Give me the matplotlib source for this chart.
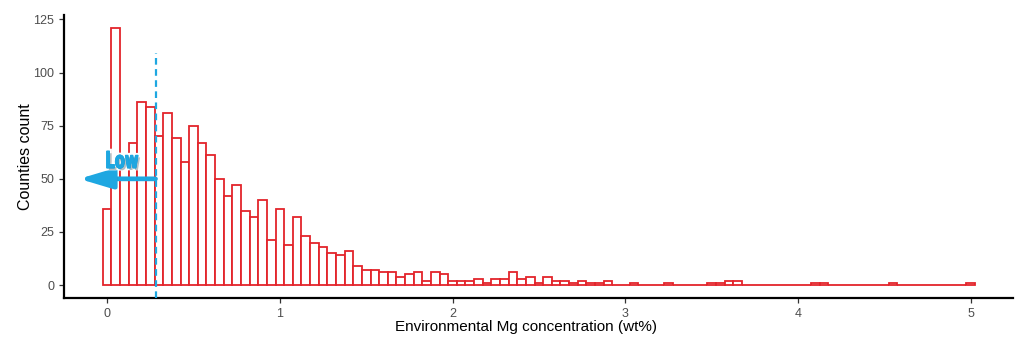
import matplotlib.pyplot as plt
import matplotlib.patheffects as pe
from matplotlib.font_manager import FontProperties
from matplotlib.textpath import TextPath
from matplotlib.patches import PathPatch
from matplotlib.transforms import Affine2D
import numpy as np

# Mg concentration histogram (bin width 0.05 wt%), counts per bin starting at 0
bin_width = 0.05
counts = [36, 121, 60, 67, 86, 84, 70, 81, 69, 58,
          75, 67, 61, 50, 42, 47, 35, 32, 40, 21,
          36, 19, 32, 23, 20, 18, 15, 14, 16, 9,
          7, 7, 6, 6, 4, 5, 6, 2, 6, 5,
          2, 2, 2, 3, 1, 3, 3, 6, 3, 4,
          1, 4, 2, 2, 1, 2, 1, 1, 2, 0,
          0, 1, 0, 0, 0, 1, 0, 0, 0, 0,
          1, 1, 2, 2, 0, 0, 0, 0, 0, 0,
          0, 0, 1, 1, 0, 0, 0, 0, 0, 0,
          0, 1, 0, 0, 0, 0, 0, 0, 0, 0,
          1]
low_cutoff = 0.28
x_ticks = [0, 1, 2, 3, 4, 5]
y_ticks = [0, 25, 50, 75, 100, 125]

centers = np.arange(len(counts)) * bin_width

plt.rcParams['font.family'] = ['Liberation Sans', 'DejaVu Sans']

fig = plt.figure(figsize=(10.27, 3.42), dpi=100)
ax = fig.add_axes([0.0623, 0.1287, 0.924, 0.8273])

ax.bar(centers, counts, width=bin_width, facecolor='white',
       edgecolor='#E3242B', linewidth=1.3, zorder=2)

ax.set_xlim(-0.25, 5.245)
ax.set_ylim(-6.05, 127.05)

# threshold line and "Low" arrow
ax.plot([low_cutoff, low_cutoff], [-6.05, 109], ls=(0, (3, 2)),
        color='#1EA7E1', lw=1.6, zorder=3, clip_on=False)
shadow = [pe.SimplePatchShadow(offset=(1.5, -1.5), alpha=0.35), pe.Normal()]
ax.annotate('', xy=(-0.162, 50), xytext=(low_cutoff, 50),
            arrowprops=dict(arrowstyle='-|>,head_length=2.0,head_width=0.6',
                            color='#1EA7E1', lw=3.4, shrinkA=0, shrinkB=0,
                            path_effects=shadow),
            zorder=4)

# condensed bold label, squeezed horizontally
tp = TextPath((0, 0), 'Low', size=23,
              prop=FontProperties(family='DejaVu Sans', weight='bold'))
bb = tp.get_extents()
cx, cy = ax.transData.transform((0.088, 59))
squeeze = Affine2D().translate(-(bb.x0 + bb.x1) / 2, -(bb.y0 + bb.y1) / 2) \
    .scale(0.64, 1.0).translate(cx, cy)
label = PathPatch(tp, transform=squeeze, facecolor='#1EA7E1',
                  edgecolor='#1EA7E1', linewidth=0.7, zorder=5)
label.set_path_effects([pe.withStroke(linewidth=3.5, foreground='white'),
                        pe.SimplePatchShadow(offset=(1.5, -1.5), alpha=0.3),
                        pe.Normal()])
fig.add_artist(label)

ax.set_xticks(x_ticks)
ax.set_yticks(y_ticks)
ax.tick_params(axis='both', length=3.5, width=0.9, color='#333333',
               labelcolor='#4D4D4D', labelsize=9)
for side in ['top', 'right']:
    ax.spines[side].set_visible(False)
for side in ['left', 'bottom']:
    ax.spines[side].set_linewidth(1.6)
    ax.spines[side].set_color('black')

ax.set_xlabel('Environmental Mg concentration (wt%)', fontsize=11)
ax.set_ylabel('Counties count', fontsize=11.5)
ax.xaxis.set_label_coords(0.487, -0.078)
ax.yaxis.set_label_coords(-0.033, 0.5)

fig.savefig('out.png', dpi=100)
